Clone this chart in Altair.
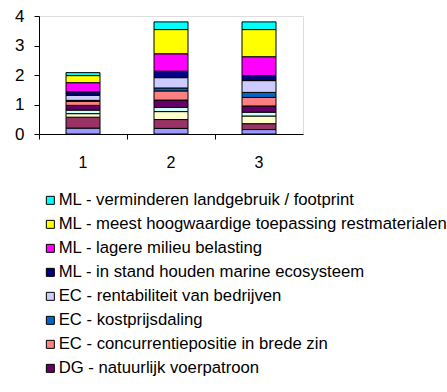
import altair as alt
import pandas as pd

# Stacked contributions per variant (bottom segment first)
variants = ["1", "2", "3"]
criteria = [
    "VV - voedselveiligheid",
    "VV - productkwaliteit",
    "DG - diergezondheid",
    "DG - dierenwelzijn",
    "DG - natuurlijk voerpatroon",
    "EC - concurrentiepositie in brede zin",
    "EC - kostprijsdaling",
    "EC - rentabiliteit van bedrijven",
    "ML - in stand houden marine ecosysteem",
    "ML - lagere milieu belasting",
    "ML - meest hoogwaardige toepassing restmaterialen",
    "ML - verminderen landgebruik / footprint",
]
colors = [
    "#9999FF", "#993366", "#FFFFCC", "#CCFFFF", "#660066", "#FF8080",
    "#0066CC", "#CCCCFF", "#000080", "#FF00FF", "#FFFF00", "#00FFFF",
]
scores_1 = [0.20, 0.37, 0.12, 0.12, 0.16, 0.14, 0.03, 0.17, 0.12, 0.31, 0.24, 0.10]
scores_2 = [0.19, 0.30, 0.27, 0.14, 0.25, 0.31, 0.10, 0.35, 0.22, 0.59, 0.82, 0.26]
scores_3 = [0.15, 0.20, 0.26, 0.13, 0.21, 0.29, 0.17, 0.40, 0.17, 0.64, 0.92, 0.26]

# Legend lists the criteria from the top of the stack downwards
legend_shown = criteria[::-1][:8]

rows = []
for v, scores in zip(variants, [scores_1, scores_2, scores_3]):
    for i, (c, s) in enumerate(zip(criteria, scores)):
        rows.append({"variant": v, "criterium": c, "score": s, "volgorde": i})
df = pd.DataFrame(rows)

FONT = "Liberation Sans"

chart = (
    alt.Chart(df)
    .mark_bar(width=34, stroke="black", strokeWidth=1)
    .encode(
        x=alt.X(
            "variant:N",
            sort=variants,
            title=None,
            scale=alt.Scale(paddingInner=0, paddingOuter=0),
            axis=alt.Axis(
                labelAngle=0,
                bandPosition=0,
                tickSize=5,
                labelPadding=15,
                labelFontSize=16,
                labelFont=FONT,
                labelColor="black",
                domainColor="black",
                tickColor="black",
                grid=False,
            ),
        ),
        y=alt.Y(
            "score:Q",
            stack="zero",
            title=None,
            scale=alt.Scale(domain=[0, 4], nice=False),
            axis=alt.Axis(
                values=[0, 1, 2, 3, 4],
                tickSize=5,
                labelPadding=10,
                labelFontSize=17,
                labelFont=FONT,
                labelColor="black",
                domainColor="black",
                tickColor="black",
                grid=False,
            ),
        ),
        color=alt.Color(
            "criterium:N",
            scale=alt.Scale(domain=criteria[::-1], range=colors[::-1]),
            legend=alt.Legend(
                values=legend_shown,
                title=None,
                orient="none",
                legendX=3,
                legendY=176,
                symbolType="square",
                symbolSize=64,
                symbolStrokeColor="black",
                symbolStrokeWidth=1,
                symbolOpacity=1,
                labelFontSize=16.7,
                labelFont=FONT,
                labelColor="black",
                labelOffset=0,
                labelLimit=500,
                rowPadding=6,
            ),
        ),
        order=alt.Order("volgorde:Q", sort="ascending"),
    )
    .properties(
        width=264,
        height=118,
        autosize=alt.AutoSizeParams(type="none"),
        padding={"left": 39, "top": 16, "right": 144, "bottom": 258},
    )
    .configure_view(stroke=None)
    .configure(background="white")
)

chart.save("out.html", embed_options={"renderer": "svg", "actions": False})
